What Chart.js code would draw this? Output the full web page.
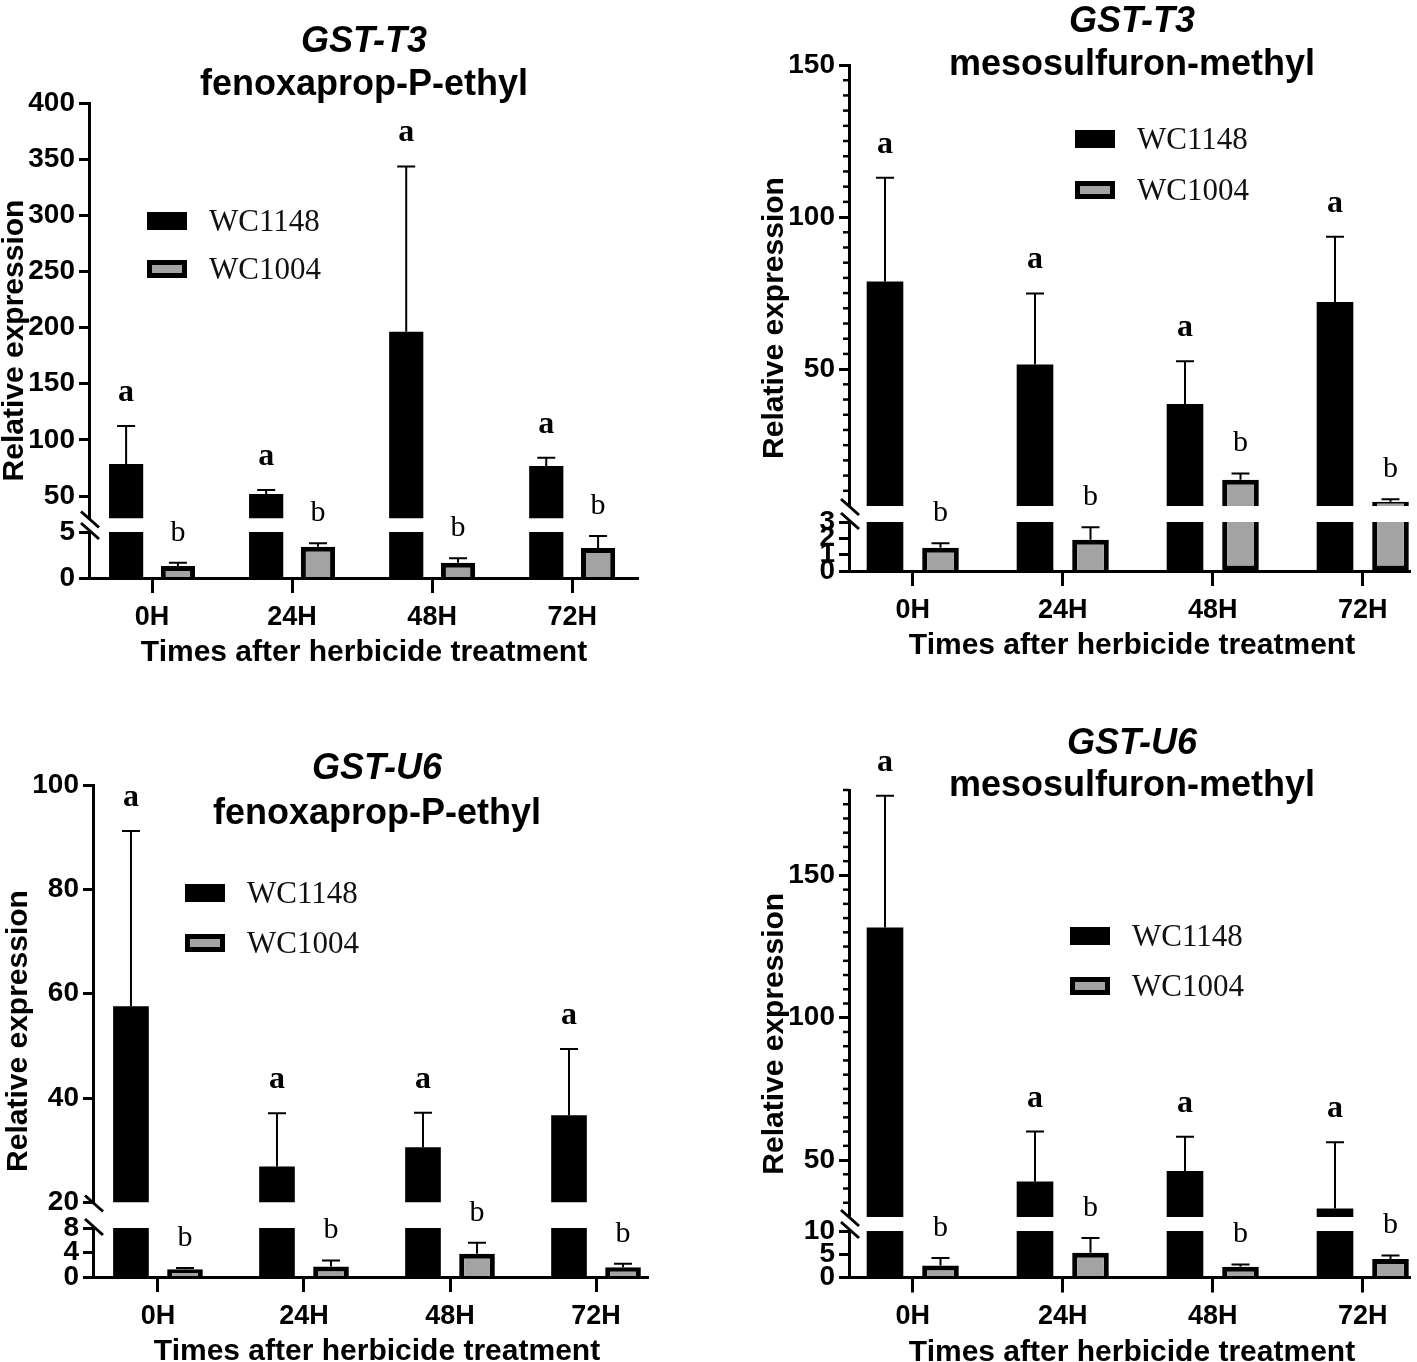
<!DOCTYPE html>
<html lang="en">
<head>
  <meta charset="UTF-8">
  <title>GST-T3 / GST-U6 relative expression</title>
  <script src="https://cdn.jsdelivr.net/npm/chart.js"></script>
  <style>
    body { margin: 0; background: #fff; }
    #fig { position: relative; width: 1417px; height: 1362px; overflow: hidden; }
    canvas { position: absolute; }
  </style>
</head>
<body>
  <div id="fig">
    <canvas id="p1" width="700" height="680" style="left:0px;top:0px"></canvas>
    <canvas id="p2" width="717" height="680" style="left:700px;top:0px"></canvas>
    <canvas id="p3" width="700" height="682" style="left:0px;top:680px"></canvas>
    <canvas id="p4" width="717" height="682" style="left:700px;top:680px"></canvas>
  </div>

  <script>
    const timePoints = ['0H', '24H', '48H', '72H'];
    const lineNames = ['WC1148', 'WC1004'];
    const lettersWC1148 = ['a', 'a', 'a', 'a'];
    const lettersWC1004 = ['b', 'b', 'b', 'b'];

    // GST-T3, fenoxaprop-P-ethyl
    const t3FenMean1148 = [78.5, 51.8, 196.4, 76.7];
    const t3FenSd1148 = [33.9, 3.5, 147.1, 7.3];
    const t3FenMean1004 = [1.3, 3.4, 1.66, 3.26];
    const t3FenSd1004 = [0.36, 0.37, 0.48, 1.3];
    const t3FenUpper = [30, 400];
    const t3FenLower = [0, 5];
    const t3FenUpperTicks = [50, 100, 150, 200, 250, 300, 350, 400];
    const t3FenLowerTicks = [0, 5];

    // GST-T3, mesosulfuron-methyl
    const t3MesMean1148 = [78.8, 51.5, 38.5, 72.1];
    const t3MesSd1148 = [34.1, 23.4, 14.1, 21.4];
    const t3MesMean1004 = [1.42, 1.91, 13.6, 6.4];
    const t3MesSd1004 = [0.28, 0.77, 2.1, 0.8];
    const t3MesUpper = [5, 150];
    const t3MesLower = [0, 3];
    const t3MesUpperTicks = [50, 100, 150];
    const t3MesLowerTicks = [0, 1, 2, 3];

    // GST-U6, fenoxaprop-P-ethyl
    const u6FenMean1148 = [57.6, 26.9, 30.6, 36.7];
    const u6FenSd1148 = [33.6, 10.2, 6.6, 12.7];
    const u6FenMean1004 = [1.25, 1.7, 3.8, 1.6];
    const u6FenSd1004 = [0.2, 1.0, 1.8, 0.55];
    const u6FenUpper = [20, 100];
    const u6FenLower = [0, 8];
    const u6FenUpperTicks = [20, 40, 60, 80, 100];
    const u6FenLowerTicks = [0, 4, 8];

    // GST-U6, mesosulfuron-methyl
    const u6MesMean1148 = [131.7, 42.5, 46.2, 33.0];
    const u6MesSd1148 = [46.3, 17.5, 12.0, 23.3];
    const u6MesMean1004 = [2.6, 5.3, 2.3, 4.0];
    const u6MesSd1004 = [1.6, 3.2, 0.5, 0.75];
    const u6MesUpper = [30, 180];
    const u6MesLower = [0, 10];
    const u6MesUpperTicks = [50, 100, 150];
    const u6MesLowerTicks = [0, 5, 10];

    const SANS = "'Liberation Sans', Arial, Helvetica, sans-serif";
    const SERIF = "'Liberation Serif', 'Times New Roman', Times, serif";
    const BLACK = '#000000';
    const GREY = '#a3a3a3';

    // page coordinates of each panel (canvas box, plot area, break)
    const panels = [
      { id: 'p1', gene: 'GST-T3', herbicide: 'fenoxaprop-P-ethyl',
        mean: [t3FenMean1148, t3FenMean1004], sd: [t3FenSd1148, t3FenSd1004],
        upper: t3FenUpper, lower: t3FenLower, upperTicks: t3FenUpperTicks, lowerTicks: t3FenLowerTicks, minorStep: 0,
        box: { left: 0, top: 0, w: 700, h: 680 },
        area: { left: 89, top: 103, right: 638, bottom: 578 }, upBottom: 518.5, lowTop: 532,
        xRange: [-0.45, 3.47], centerX: 364, titleY: [52, 95], legend: { x: 147, y: 212, step: 48 } },
      { id: 'p2', gene: 'GST-T3', herbicide: 'mesosulfuron-methyl',
        mean: [t3MesMean1148, t3MesMean1004], sd: [t3MesSd1148, t3MesSd1004],
        upper: t3MesUpper, lower: t3MesLower, upperTicks: t3MesUpperTicks, lowerTicks: t3MesLowerTicks, minorStep: 5,
        box: { left: 700, top: 0, w: 717, h: 680 },
        area: { left: 849, top: 65, right: 1410, bottom: 571 }, upBottom: 506, lowTop: 522,
        xRange: [-0.425, 3.315], centerX: 1132, titleY: [32, 75], legend: { x: 1075, y: 130, step: 51 } },
      { id: 'p3', gene: 'GST-U6', herbicide: 'fenoxaprop-P-ethyl',
        mean: [u6FenMean1148, u6FenMean1004], sd: [u6FenSd1148, u6FenSd1004],
        upper: u6FenUpper, lower: u6FenLower, upperTicks: u6FenUpperTicks, lowerTicks: u6FenLowerTicks, minorStep: 0,
        box: { left: 0, top: 680, w: 700, h: 682 },
        area: { left: 93, top: 785, right: 648, bottom: 1277 }, upBottom: 1202.5, lowTop: 1228,
        xRange: [-0.445, 3.356], centerX: 377, titleY: [779, 824], legend: { x: 185, y: 884, step: 50 } },
      { id: 'p4', gene: 'GST-U6', herbicide: 'mesosulfuron-methyl',
        mean: [u6MesMean1148, u6MesMean1004], sd: [u6MesSd1148, u6MesSd1004],
        upper: u6MesUpper, lower: u6MesLower, upperTicks: u6MesUpperTicks, lowerTicks: u6MesLowerTicks, minorStep: 5,
        box: { left: 700, top: 680, w: 717, h: 682 },
        area: { left: 849, top: 790, right: 1410, bottom: 1277.5 }, upBottom: 1217, lowTop: 1231,
        xRange: [-0.425, 3.315], centerX: 1132, titleY: [754, 796], legend: { x: 1070, y: 927, step: 50 } }
    ];
    const letters = [lettersWC1148, lettersWC1004];
    const X_HEIGHT = 70;

    // error bars, letters, axis break, minor ticks, titles and legend
    function makeDeco(p) {
      const ox = p.box.left, oy = p.box.top;
      return {
        id: 'deco',
        afterDatasetsDraw(chart) {
          const ctx = chart.ctx;
          const up = chart.scales.yUp, low = chart.scales.yLow;
          const ax = chart.chartArea.left;
          const px = v => v >= up.min ? up.getPixelForValue(v) : low.getPixelForValue(Math.min(v, low.max));
          ctx.save();
          ctx.strokeStyle = BLACK;
          ctx.fillStyle = BLACK;
          p.mean.forEach((means, k) => {
            const meta = chart.getDatasetMeta(k);
            means.forEach((m, i) => {
              const x = meta.data[i].x;
              const y0 = px(m), y1 = px(m + p.sd[k][i]);
              ctx.lineWidth = 2;
              ctx.beginPath();
              ctx.moveTo(x, y0); ctx.lineTo(x, y1);
              ctx.moveTo(x - 9, y1); ctx.lineTo(x + 9, y1);
              ctx.stroke();
              ctx.font = (k === 0 ? 'bold 32px ' : '30px ') + SERIF;
              ctx.textAlign = 'center';
              ctx.textBaseline = 'alphabetic';
              ctx.fillText(letters[k][i], x, y1 - (k === 0 ? 25 : 22));
            });
          });

          ctx.lineWidth = 3;
          [up.bottom + 1, low.top - 1].forEach(y => {
            ctx.beginPath();
            ctx.moveTo(ax - 8, y - 8);
            ctx.lineTo(ax + 10, y + 8);
            ctx.stroke();
          });

          if (p.minorStep) {
            ctx.lineWidth = 2.5;
            for (let v = p.upper[0] + p.minorStep; v <= p.upper[1]; v += p.minorStep) {
              if (p.upperTicks.includes(v)) continue;
              const y = up.getPixelForValue(v);
              ctx.beginPath();
              ctx.moveTo(ax - 6, y); ctx.lineTo(ax, y);
              ctx.stroke();
            }
          }
          ctx.restore();
        },
        afterDraw(chart) {
          const ctx = chart.ctx;
          const ca = chart.chartArea;
          ctx.save();
          ctx.fillStyle = BLACK;
          ctx.textAlign = 'center';
          ctx.textBaseline = 'alphabetic';
          ctx.font = 'italic bold 36px ' + SANS;
          ctx.fillText(p.gene, p.centerX - ox, p.titleY[0] - oy);
          ctx.font = 'bold 36px ' + SANS;
          ctx.fillText(p.herbicide, p.centerX - ox, p.titleY[1] - oy);

          ctx.font = 'bold 30px ' + SANS;
          ctx.fillText('Times after herbicide treatment', p.centerX - ox, ca.bottom + 83);

          ctx.save();
          ctx.translate(ca.left - 66, (ca.top + ca.bottom) / 2);
          ctx.rotate(-Math.PI / 2);
          ctx.font = 'bold 30px ' + SANS;
          ctx.fillText('Relative expression', 0, 0);
          ctx.restore();

          // legend
          ctx.textAlign = 'left';
          lineNames.forEach((name, k) => {
            const ds = chart.data.datasets[k];
            const lx = p.legend.x - ox, ly = p.legend.y - oy + k * p.legend.step;
            const bw = ds.borderWidth || 0;
            ctx.fillStyle = bw ? ds.borderColor : ds.backgroundColor;
            ctx.fillRect(lx, ly, 40, 18);
            if (bw) {
              ctx.fillStyle = ds.backgroundColor;
              ctx.fillRect(lx + bw, ly + bw, 40 - 2 * bw, 18 - 2 * bw);
            }
            ctx.fillStyle = '#111111';
            ctx.font = '31px ' + SERIF;
            ctx.fillText(name, lx + 62, ly + 19);
          });
          ctx.restore();
        }
      };
    }

    function buildPanel(p) {
      const yWidth = p.area.left - p.box.left;
      const lowMax = p.lower[1], upMin = p.upper[0];
      const upH = p.upBottom - p.area.top;
      const gapH = p.lowTop - p.upBottom;
      const lowH = p.area.bottom - p.lowTop;
      const lowData = arr => arr.map((v, i) => ({ x: i, y: Math.min(v, lowMax) }));
      const upData = arr => arr.map((v, i) => ({ x: i, y: v > upMin ? [upMin, v] : null }));
      const bar = { categoryPercentage: 0.74, barPercentage: 0.66 };
      const yFont = { family: SANS, size: 28, weight: 'bold' };
      const xFont = { family: SANS, size: 27, weight: 'bold' };

      const yCommon = {
        type: 'linear', position: 'left', stack: 'rel', stacked: false,
        afterFit: s => { s.width = yWidth; },
        grid: { drawOnChartArea: false, drawTicks: true, tickLength: 10, tickWidth: 3, tickColor: BLACK },
        border: { display: true, width: 3, color: BLACK },
        ticks: { autoSkip: false, padding: 4, color: BLACK, font: yFont, callback: v => String(v) }
      };

      new Chart(document.getElementById(p.id), {
        type: 'bar',
        data: {
          datasets: [
            { label: lineNames[0], yAxisID: 'yLow', stack: lineNames[0], data: lowData(p.mean[0]),
              backgroundColor: BLACK, borderWidth: 0, ...bar },
            { label: lineNames[1], yAxisID: 'yLow', stack: lineNames[1], data: lowData(p.mean[1]),
              backgroundColor: GREY, borderColor: BLACK, borderWidth: 5,
              borderSkipped: c => (c.dataIndex !== undefined && p.mean[1][c.dataIndex] > lowMax) ? 'end' : 'start', ...bar },
            { label: lineNames[0], yAxisID: 'yUp', stack: lineNames[0], data: upData(p.mean[0]),
              backgroundColor: BLACK, borderWidth: 0, ...bar },
            { label: lineNames[1], yAxisID: 'yUp', stack: lineNames[1], data: upData(p.mean[1]),
              backgroundColor: GREY, borderColor: BLACK, borderWidth: 5, borderSkipped: 'start', ...bar }
          ]
        },
        options: {
          responsive: false,
          animation: false,
          layout: {
            padding: {
              left: 0,
              top: p.area.top - p.box.top,
              right: p.box.left + p.box.w - p.area.right,
              bottom: p.box.top + p.box.h - p.area.bottom - X_HEIGHT
            }
          },
          plugins: { legend: { display: false }, tooltip: { enabled: false }, title: { display: false } },
          scales: {
            x: {
              type: 'linear', position: 'bottom', offset: false, min: p.xRange[0], max: p.xRange[1],
              afterBuildTicks: s => { s.ticks = timePoints.map((_, i) => ({ value: i })); },
              afterFit: s => { s.height = X_HEIGHT; },
              grid: { drawOnChartArea: false, drawTicks: true, offset: false, tickLength: 15, tickWidth: 3, tickColor: BLACK },
              border: { display: true, width: 3, color: BLACK, z: 1 },
              ticks: { autoSkip: false, maxRotation: 0, padding: 8, color: BLACK, font: xFont,
                callback: v => timePoints[v] ?? '' }
            },
            yLow: {
              ...yCommon, weight: 1, stackWeight: lowH, min: p.lower[0], max: p.lower[1],
              afterBuildTicks: s => { s.ticks = p.lowerTicks.map(v => ({ value: v })); }
            },
            yGap: {
              type: 'linear', position: 'left', stack: 'rel', weight: 2, stackWeight: gapH,
              afterFit: s => { s.width = yWidth; },
              grid: { display: false }, border: { display: false }, ticks: { display: false }
            },
            yUp: {
              ...yCommon, weight: 3, stackWeight: upH, min: p.upper[0], max: p.upper[1],
              afterBuildTicks: s => { s.ticks = p.upperTicks.map(v => ({ value: v })); }
            }
          }
        },
        plugins: [makeDeco(p)]
      });
    }

    panels.forEach(buildPanel);
  </script>
</body>
</html>
